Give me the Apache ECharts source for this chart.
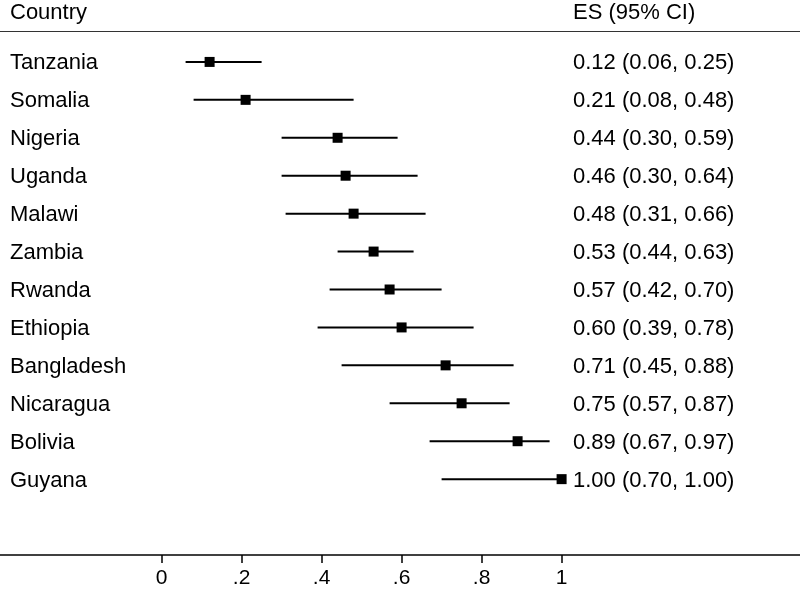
<!DOCTYPE html>
<html>
<head>
<meta charset="utf-8">
<script src="https://cdn.jsdelivr.net/npm/echarts@6/dist/echarts.min.js"></script>
<style>
html,body{margin:0;padding:0;background:#fff;}
#chart{width:800px;height:589px;}
</style>
</head>
<body>
<div id="chart"></div>
<script>
var countries = ['Tanzania','Somalia','Nigeria','Uganda','Malawi','Zambia','Rwanda','Ethiopia','Bangladesh','Nicaragua','Bolivia','Guyana'];
var es    = [0.12,0.21,0.44,0.46,0.48,0.53,0.57,0.60,0.71,0.75,0.89,1.00];
var lower = [0.06,0.08,0.30,0.30,0.31,0.44,0.42,0.39,0.45,0.57,0.67,0.70];
var upper = [0.25,0.48,0.59,0.64,0.66,0.63,0.70,0.78,0.88,0.87,0.97,1.00];
var tickValues = [0,0.2,0.4,0.6,0.8,1];
var tickLabels = ['0','.2','.4','.6','.8','1'];
var headerLeft = 'Country';
var headerRight = 'ES (95% CI)';

var FONT = 'Liberation Sans, Arial, Helvetica, sans-serif';
var FS = 22;

var data = countries.map(function(c,i){ return [i, es[i], lower[i], upper[i]]; });

var chart = echarts.init(document.getElementById('chart'));
chart.setOption({
  animation:false,
  backgroundColor:'#fff',
  grid:{left:0,right:0,top:24,height:532},
  xAxis:{
    type:'value', min:-0.404, max:1.596,
    axisLine:{show:true,onZero:false,lineStyle:{color:'#000',width:1.5}},
    axisTick:{show:true,customValues:tickValues,length:8,lineStyle:{color:'#000',width:1.5}},
    axisLabel:{show:true,customValues:tickValues,margin:13,color:'#000',fontSize:21,fontFamily:FONT,
      formatter:function(v){ var k=tickValues.indexOf(v); return k>=0?tickLabels[k]:''; }},
    splitLine:{show:false}
  },
  yAxis:{
    type:'value', inverse:true, min:-1, max:13,
    show:false, splitLine:{show:false}
  },
  graphic:[
    {type:'text',left:10,top:2,style:{text:headerLeft,fill:'#000',font:FS+'px '+FONT}},
    {type:'text',left:573,top:2,style:{text:headerRight,fill:'#000',font:FS+'px '+FONT}},
    {type:'line',shape:{x1:0,y1:31.5,x2:800,y2:31.5},style:{stroke:'#333',lineWidth:1.2}}
  ],
  series:[{
    type:'custom',
    data:data,
    encode:{x:[1,2,3],y:0},
    renderItem:function(params,api){
      var i = api.value(0);
      var pE = api.coord([api.value(1), i]);
      var pL = api.coord([api.value(2), i]);
      var pH = api.coord([api.value(3), i]);
      var cs = params.coordSys;
      var s = 10;
      var txt = api.value(1).toFixed(2)+' ('+api.value(2).toFixed(2)+', '+api.value(3).toFixed(2)+')';
      return {type:'group',children:[
        {type:'line',shape:{x1:pL[0],y1:pL[1],x2:pH[0],y2:pH[1]},style:{stroke:'#000',lineWidth:2}},
        {type:'rect',shape:{x:pE[0]-s/2,y:pE[1]-s/2,width:s,height:s},style:{fill:'#000'}},
        {type:'text',x:cs.x+10,y:pE[1]+1.5,style:{text:countries[i],fill:'#000',font:FS+'px '+FONT,verticalAlign:'middle',align:'left'}},
        {type:'text',x:cs.x+573,y:pE[1]+1.5,style:{text:txt,fill:'#000',font:FS+'px '+FONT,verticalAlign:'middle',align:'left'}}
      ]};
    }
  }]
});
</script>
</body>
</html>
